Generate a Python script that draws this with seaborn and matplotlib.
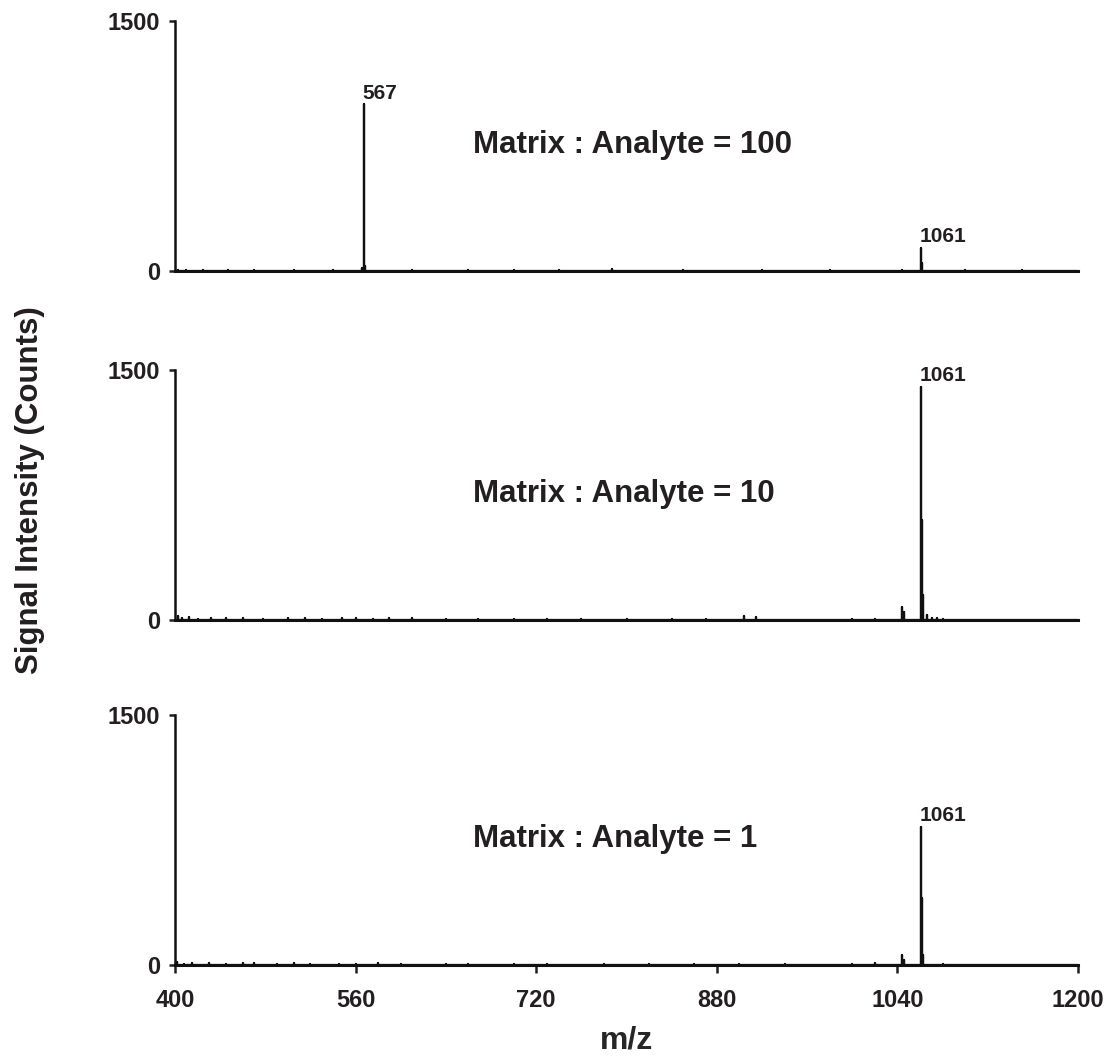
import matplotlib
matplotlib.use("Agg")
import matplotlib.pyplot as plt
import numpy as np
import pandas as pd
import seaborn as sns

# Peak lists (m/z, counts) for the three matrix : analyte ratios
mz_ratio100 = [403, 410, 425, 447, 470, 505, 540, 566, 567, 568, 610, 660, 700, 740,
               787, 850, 920, 980, 1044, 1061, 1062, 1100, 1150]
int_ratio100 = [8, 5, 4, 5, 4, 4, 5, 20, 1000, 30, 4, 3, 4, 3,
                10, 3, 4, 3, 6, 140, 45, 3, 3]

mz_ratio10 = [403, 406, 412, 420, 432, 445, 460, 478, 500, 515, 530, 548, 560, 575,
              590, 610, 640, 668, 700, 730, 760, 800, 840, 870, 904, 915, 1000,
              1020, 1044, 1046, 1061, 1062, 1063, 1066, 1071, 1075, 1080]
int_ratio10 = [25, 12, 15, 8, 10, 9, 10, 8, 9, 10, 8, 12, 9, 8,
               10, 9, 6, 8, 7, 6, 7, 5, 6, 5, 25, 15, 6,
               8, 80, 50, 1400, 600, 150, 30, 12, 10, 8]

mz_ratio1 = [402, 408, 415, 430, 445, 460, 470, 490, 505, 520, 545, 560, 580, 600,
             640, 660, 700, 730, 780, 820, 860, 900, 940, 1000, 1020, 1044, 1046,
             1061, 1062, 1063, 1080]
int_ratio1 = [15, 8, 10, 9, 8, 12, 9, 8, 10, 8, 8, 7, 9, 8,
              6, 7, 6, 5, 6, 5, 6, 5, 6, 8, 10, 60, 30,
              830, 400, 60, 8]

ratio_labels = ["Matrix : Analyte = 100", "Matrix : Analyte = 10", "Matrix : Analyte = 1"]
peak_labels = [[(567, "567"), (1061, "1061")], [(1061, "1061")], [(1061, "1061")]]

x_ticks = [400, 560, 720, 880, 1040, 1200]
y_ticks = [0, 1500]

sns.set_style("ticks")
plt.rcParams["font.family"] = ["Liberation Sans", "DejaVu Sans"]
plt.rcParams["font.weight"] = "bold"
plt.rcParams["text.color"] = "#231f20"
plt.rcParams["xtick.color"] = "#231f20"
plt.rcParams["ytick.color"] = "#231f20"


def stick_frame(mz, inten):
    # Each peak becomes a vertical stick: baseline -> apex -> baseline
    xs, ys = [], []
    for m, v in zip(mz, inten):
        xs += [m, m, m]
        ys += [0, v, 0]
    xs = [400] + xs + [1200]
    ys = [0] + ys + [0]
    return pd.DataFrame({"mz": xs, "counts": ys})


fig = plt.figure(figsize=(11.12, 10.61), dpi=100)
left, width = 0.1574, 0.812
bottoms = [0.7446, 0.4157, 0.0905]
height = 0.2356

spectra = [(mz_ratio100, int_ratio100), (mz_ratio10, int_ratio10), (mz_ratio1, int_ratio1)]

for i, ((mz, inten), b) in enumerate(zip(spectra, bottoms)):
    ax = fig.add_axes([left, b, width, height])
    df = stick_frame(mz, inten)
    sns.lineplot(data=df, x="mz", y="counts", sort=False, estimator=None,
                 color="#111111", linewidth=1.6, ax=ax)
    ax.set_xlim(400, 1200)
    ax.set_ylim(0, 1500)
    ax.set_yticks(y_ticks)
    ax.set_yticklabels([str(t) for t in y_ticks], fontsize=17, fontweight="bold")
    ax.set_xticks(x_ticks)
    sns.despine(ax=ax)
    ax.spines["left"].set_linewidth(1.8)
    ax.spines["bottom"].set_linewidth(2.2)
    ax.spines["left"].set_color("#111111")
    ax.spines["bottom"].set_color("#111111")
    ax.tick_params(axis="y", width=1.8, length=4, direction="out", pad=7)
    if i == 2:
        ax.set_xticklabels([str(t) for t in x_ticks], fontsize=17, fontweight="bold")
        ax.tick_params(axis="x", width=1.8, length=6, direction="out", pad=11)
        ax.set_xlabel("m/z", fontsize=23, fontweight="bold", labelpad=10)
    else:
        ax.set_xticklabels([])
        ax.tick_params(axis="x", length=0)
        ax.set_xlabel("")
    ax.set_ylabel("")
    ax.text(664, 755, ratio_labels[i],
            fontsize=22.5, fontweight="bold", ha="left", va="center")
    for pos, lab in peak_labels[i]:
        val = inten[mz.index(pos)]
        ax.text(pos - 1, val + 8, lab, fontsize=15, fontweight="bold",
                ha="left", va="bottom")

fig.text(0.027, 0.538, "Signal Intensity (Counts)", rotation=90, fontsize=22.5,
         fontweight="bold", ha="center", va="center")

fig.savefig("out.png", dpi=100)
